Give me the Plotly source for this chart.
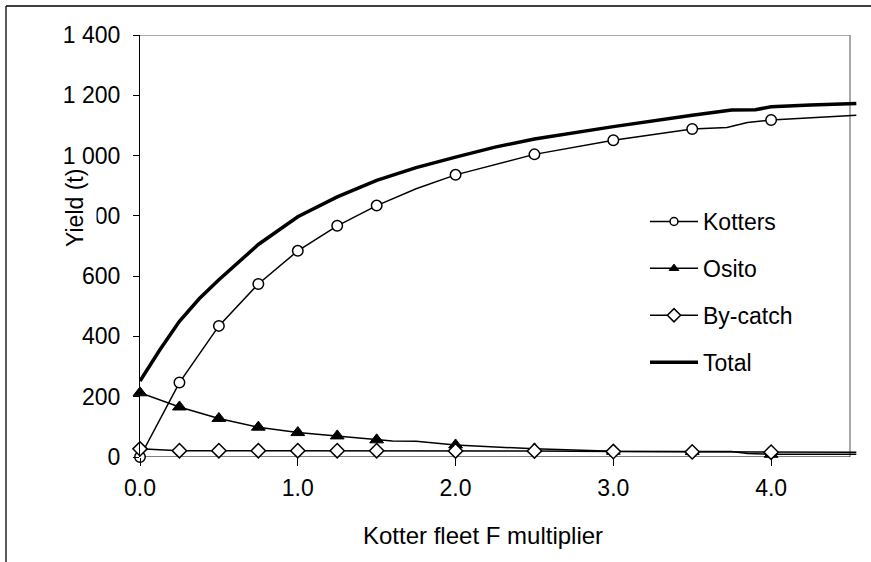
import plotly.graph_objects as go

# ---- data ----
kotters_x = [0, 0.25, 0.5, 0.75, 1.0, 1.25, 1.5, 1.75, 2.0, 2.5, 3.0, 3.5, 3.72, 3.85, 4.0, 4.54]
kotters_y = [0, 247, 435, 574, 684, 767, 834, 890, 936, 1004, 1051, 1088, 1093, 1110, 1118, 1134]
kotters_marker = [1, 1, 1, 1, 1, 1, 1, 0, 1, 1, 1, 1, 0, 0, 1, 0]

osito_x = [0, 0.25, 0.5, 0.75, 1.0, 1.25, 1.5, 1.6, 1.75, 2.0, 2.5, 3.0, 3.5, 3.75, 3.85, 4.0, 4.54]
osito_y = [213, 166, 128, 99, 81, 70, 57, 53, 52, 40, 27, 19, 18, 18, 12, 9, 9]
osito_marker = [1, 1, 1, 1, 1, 1, 1, 0, 0, 1, 1, 1, 1, 0, 0, 1, 0]

bycatch_x = [0, 0.25, 0.5, 0.75, 1.0, 1.25, 1.5, 2.0, 2.5, 3.0, 3.5, 4.0, 4.54]
bycatch_y = [27, 21, 21, 21, 21, 21, 21, 20, 20, 18, 17, 16, 16]
bycatch_marker = [1, 1, 1, 1, 1, 1, 1, 1, 1, 1, 1, 1, 0]

total_x = [0, 0.125, 0.25, 0.375, 0.5, 0.625, 0.75, 1.0, 1.25, 1.5, 1.75, 2.0, 2.25, 2.5,
           3.0, 3.5, 3.75, 3.9, 4.0, 4.25, 4.54]
total_y = [252, 355, 450, 525, 588, 648, 705, 797, 863, 918, 960, 995, 1028, 1055,
           1096, 1134, 1151, 1152, 1162, 1168, 1173]

x_ticks = [0, 1, 2, 3, 4]
y_ticks = [0, 200, 400, 600, 800, 1000, 1200, 1400]

FONT = "Arial, Liberation Sans, sans-serif"
FS = 23
W, H = 871, 562
L, R, T, B = 140, 14, 35, 105
PW, PH = W - L - R, H - T - B
X_MAX_AXIS = 4.5
X_RANGE = [0, 4.5 * PW / 710.0]


def px_x(p):
    return (p - L) / PW


def px_y(p):
    return (H - B - p) / PH


fig = go.Figure()

fig.add_trace(go.Scatter(
    x=total_x, y=total_y, mode="lines", name="Total", legendgroup="d", legendrank=4,
    line=dict(color="black", width=3.5),
))
fig.add_trace(go.Scatter(
    x=kotters_x, y=kotters_y, mode="lines+markers", name="Kotters", legendgroup="a", legendrank=1,
    line=dict(color="black", width=1.5),
    marker=dict(symbol="circle", size=[10.5 * m for m in kotters_marker], color="white", opacity=1,
                line=dict(color="black", width=1.5)),
    cliponaxis=False,
))
fig.add_trace(go.Scatter(
    x=osito_x, y=osito_y, mode="lines+markers", name="Osito", legendgroup="b", legendrank=2,
    line=dict(color="black", width=1.5),
    marker=dict(symbol="triangle-up", size=[12 * m for m in osito_marker], color="black", opacity=1,
                line=dict(color="black", width=1)),
    cliponaxis=False,
))
fig.add_trace(go.Scatter(
    x=bycatch_x, y=bycatch_y, mode="lines+markers", name="By-catch", legendgroup="c", legendrank=3,
    line=dict(color="black", width=1.5),
    marker=dict(symbol="diamond", size=[11 * m for m in bycatch_marker], color="white", opacity=1,
                line=dict(color="black", width=1.5)),
    cliponaxis=False,
))

shapes = [
    # plot-area frame (top & right, grey)
    dict(type="line", xref="x", yref="y", x0=0, x1=X_MAX_AXIS, y0=1400, y1=1400,
         line=dict(color="#8c8c8c", width=1.5), layer="below"),
    dict(type="line", xref="x", yref="y", x0=X_MAX_AXIS, x1=X_MAX_AXIS, y0=0, y1=1400,
         line=dict(color="#8c8c8c", width=1.5), layer="below"),
    # x axis line
    dict(type="line", xref="x", yref="y", x0=0, x1=X_MAX_AXIS, y0=0, y1=0,
         line=dict(color="black", width=1.2), layer="below"),
    # outer chart border (left & top)
    dict(type="line", xref="paper", yref="paper", x0=px_x(6), x1=px_x(6),
         y0=px_y(600), y1=px_y(6), line=dict(color="black", width=1.3)),
    dict(type="line", xref="paper", yref="paper", x0=px_x(6), x1=px_x(900),
         y0=px_y(6), y1=px_y(6), line=dict(color="black", width=1.3)),
    # white box behind the y title (hides the first digit of the 800 label as in the source)
    dict(type="rect", xref="paper", yref="paper", x0=px_x(58), x1=px_x(96.5),
         y0=px_y(258), y1=px_y(165), fillcolor="white", line=dict(width=0), layer="above"),
]

fig.update_layout(
    width=W, height=H,
    margin=dict(l=L, r=R, t=T, b=B),
    paper_bgcolor="white", plot_bgcolor="white",
    font=dict(family=FONT, size=FS, color="black"),
    separators=". ",
    showlegend=True,
    legend=dict(
        x=px_x(645), y=px_y(200), xanchor="left", yanchor="top",
        traceorder="grouped", tracegroupgap=14, itemsizing="trace",
        bgcolor="rgba(0,0,0,0)", font=dict(size=FS, family=FONT),
        itemwidth=48,
    ),
    shapes=shapes,
    annotations=[
        dict(text="Yield (t)", xref="paper", yref="paper", x=px_x(75), y=px_y(208),
             textangle=-90, showarrow=False, font=dict(size=FS, family=FONT),
             xanchor="center", yanchor="middle"),
        dict(text="Kotter fleet F multiplier", xref="paper", yref="paper",
             x=px_x(483), y=px_y(535), showarrow=False,
             font=dict(size=FS + 1, family=FONT), xanchor="center", yanchor="middle"),
    ],
)

fig.update_xaxes(
    range=X_RANGE, tickvals=x_ticks, tickformat=".1f",
    ticks="outside", ticklen=8, tickwidth=1.2, tickcolor="black",
    showline=False, showgrid=False, zeroline=False, ticklabelstandoff=2,
)
fig.update_yaxes(
    range=[0, 1400], tickvals=y_ticks, tickformat=",d",
    ticks="outside", ticklen=6, tickwidth=1.2, tickcolor="black",
    showline=True, linecolor="black", linewidth=1.2,
    showgrid=False, zeroline=False, ticklabelstandoff=8,
)

fig.write_html("out.html")
